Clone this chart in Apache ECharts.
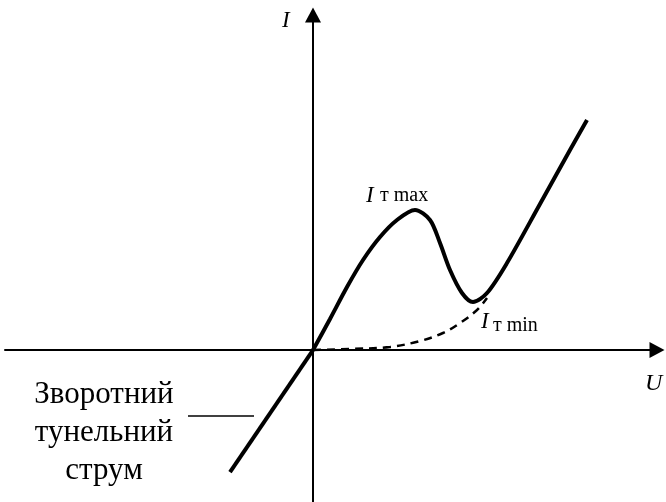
<!DOCTYPE html>
<html>
<head>
<meta charset="utf-8">
<script src="https://cdn.jsdelivr.net/npm/echarts@6/dist/echarts.min.js"></script>
<style>
html, body { margin: 0; padding: 0; background: #fff; }
#main { width: 666px; height: 502px; }
</style>
</head>
<body>
<div id="main"></div>
<script>
// ВАХ тунельного діода (умовні одиниці, зсув від початку координат)
var reverseBranch = [[-83, -122], [0, 0]]; // зворотний тунельний струм
var tunnelBranch = [[0, 0], [17, 31], [34, 63], [50, 90], [67, 113], [84, 130], [102, 140],
	[117, 130], [127, 107], [137, 80], [149, 57], [160, 48], [174, 57], [194, 87],
	[227, 146], [257, 200], [274, 230]];
var diffusionBranch = [[0, 0], [37, 1], [77, 3], [107, 9], [130, 17], [147, 27], [164, 40], [174, 52]];
var rangeU = [-308, 344];
var rangeI = [-152, 335];

var serif = "'Liberation Serif', 'Times New Roman', serif";

var myChart = echarts.init(document.getElementById('main'));

var axisLine = {
	show: true,
	onZero: true,
	symbol: ['none', 'triangle'],
	symbolSize: [16, 15],
	lineStyle: { color: '#000', width: 2 }
};

option = {
	animation: false,
	backgroundColor: '#fff',
	grid: { left: 5, right: 9, top: 15, bottom: 0 },
	xAxis: {
		type: 'value',
		min: rangeU[0],
		max: rangeU[1],
		axisLine: axisLine,
		axisTick: { show: false },
		axisLabel: { show: false },
		splitLine: { show: false }
	},
	yAxis: {
		type: 'value',
		min: rangeI[0],
		max: rangeI[1],
		axisLine: axisLine,
		axisTick: { show: false },
		axisLabel: { show: false },
		splitLine: { show: false }
	},
	series: [{
		type: 'line',
		data: reverseBranch,
		symbol: 'none',
		lineStyle: { color: '#000', width: 4 }
	}, {
		type: 'line',
		data: tunnelBranch,
		symbol: 'none',
		smooth: 0.3,
		lineStyle: { color: '#000', width: 4 }
	}, {
		type: 'line',
		data: diffusionBranch,
		symbol: 'none',
		smooth: 0.35,
		lineStyle: { color: '#000', width: 2.5, type: [8, 6] }
	}],
	graphic: [
		{ type: 'text', left: 282, top: 9, style: { text: 'I', font: 'italic 23px ' + serif, fill: '#000' } },
		{ type: 'text', left: 645, top: 372, style: { text: 'U', font: 'italic 24px ' + serif, fill: '#000' } },
		{ type: 'text', left: 366, top: 184, style: { text: 'I', font: 'italic 23px ' + serif, fill: '#000' } },
		{ type: 'text', left: 380, top: 186, style: { text: 'т max', font: '20px ' + serif, fill: '#000' } },
		{ type: 'text', left: 481, top: 310, style: { text: 'I', font: 'italic 23px ' + serif, fill: '#000' } },
		{ type: 'text', left: 493, top: 316, style: { text: 'т min', font: '20px ' + serif, fill: '#000' } },
		{
			type: 'text', x: 104, y: 376,
			style: {
				text: 'Зворотний\nтунельний\nструм',
				font: '31px ' + serif, lineHeight: 38,
				align: 'center', verticalAlign: 'top', fill: '#000'
			}
		},
		{ type: 'line', shape: { x1: 188, y1: 416, x2: 254, y2: 416 }, style: { stroke: '#000', lineWidth: 1.5 } }
	]
};

myChart.setOption(option);
</script>
</body>
</html>
